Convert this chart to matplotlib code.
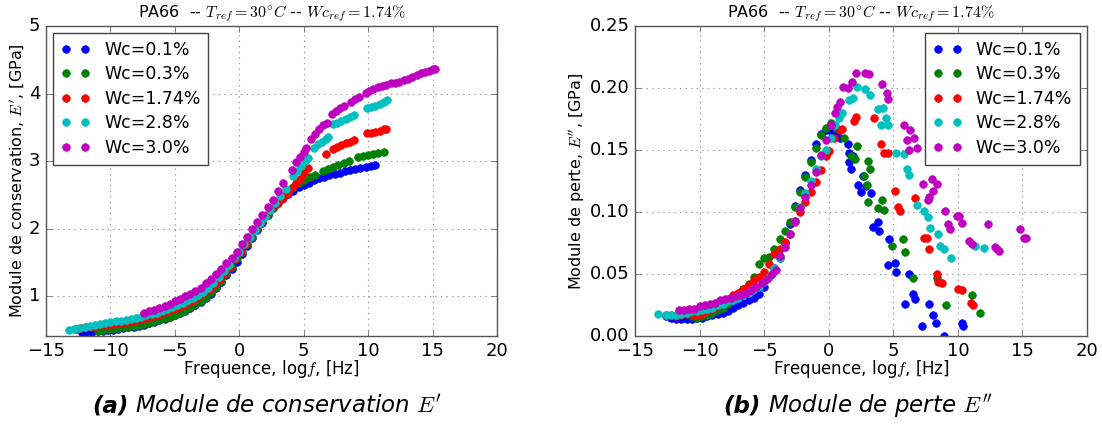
import matplotlib
matplotlib.use("Agg")
from matplotlib import pyplot as plt

plt.style.use("classic")
plt.rcParams["figure.facecolor"] = "white"
plt.rcParams["savefig.facecolor"] = "white"
plt.rcParams["mathtext.fontset"] = "cm"

labels = ["Wc=0.1%", "Wc=0.3%", "Wc=1.74%", "Wc=2.8%", "Wc=3.0%"]
colors = ["b", "g", "r", "c", "m"]

# --- Module de conservation E' [GPa] vs log f
e1_x_01 = [-12.2, -11.8, -11.4, -11.0, -10.6, -10.2, -9.8, -9.4, -9.0, -8.6, -8.2, -7.8, -7.4, -7.0, -6.6, -6.2,
           -5.8, -5.4, -5.0, -4.6, -4.2, -3.8, -3.4, -3.0, -2.6, -2.2, -1.8, -1.4, -1.0, -0.6, -0.2, 0.2, 0.6,
           1.0, 1.4, 1.8, 2.2, 2.6, 3.0, 3.4, 3.8, 4.2, 4.6, 5.0, 5.4, 5.8, 6.2, 6.6, 7.0, 7.4, 7.8, 8.2, 8.6,
           9.0, 9.4, 9.8, 10.2, 10.5]
e1_y_01 = [0.46, 0.47, 0.475, 0.48, 0.49, 0.50, 0.505, 0.515, 0.525, 0.54, 0.55, 0.565, 0.58, 0.60, 0.62, 0.645,
           0.67, 0.695, 0.72, 0.75, 0.785, 0.82, 0.865, 0.91, 0.97, 1.04, 1.12, 1.21, 1.31, 1.41, 1.51, 1.62, 1.74,
           1.86, 1.98, 2.09, 2.20, 2.30, 2.38, 2.45, 2.51, 2.56, 2.61, 2.65, 2.68, 2.72, 2.75, 2.77, 2.79, 2.81, 2.83,
           2.85, 2.87, 2.88, 2.90, 2.91, 2.93, 2.94]

e1_x_03 = [-11.0, -10.6, -10.2, -9.8, -9.4, -9.0, -8.6, -8.2, -7.8, -7.4, -7.0, -6.6, -6.2, -5.8, -5.4, -5.0,
           -4.6, -4.2, -3.8, -3.4, -3.0, -2.6, -2.2, -1.8, -1.4, -1.0, -0.6, -0.2, 0.2, 0.6, 1.0, 1.4, 1.8, 2.2,
           2.6, 3.0, 3.4, 3.8, 4.2, 4.6, 5.0, 5.5, 5.9, 6.5, 6.9, 7.3, 7.7, 8.1, 8.5, 9.2, 9.6, 10.0, 10.4, 10.8, 11.2]
e1_y_03 = [0.49, 0.50, 0.51, 0.52, 0.53, 0.54, 0.55, 0.565, 0.58, 0.595, 0.61, 0.63, 0.65, 0.675, 0.70, 0.73,
           0.76, 0.795, 0.835, 0.88, 0.93, 0.99, 1.06, 1.14, 1.23, 1.33, 1.44, 1.56, 1.66, 1.77, 1.88, 1.99, 2.10,
           2.21, 2.31, 2.40, 2.48, 2.55, 2.61, 2.67, 2.72, 2.77, 2.80, 2.85, 2.88, 2.92, 2.94, 2.97, 3.00, 3.06,
           3.07, 3.09, 3.10, 3.12, 3.14]

e1_x_174 = [-12.7, -12.3, -11.9, -11.5, -11.1, -10.7, -10.3, -9.9, -9.5, -9.1, -8.7, -8.3, -7.9, -7.5, -7.1, -6.7,
            -6.3, -5.9, -5.5, -5.1, -4.7, -4.3, -3.9, -3.5, -3.1, -2.7, -2.3, -1.9, -1.5, -1.1, -0.7, -0.3, 0.1,
            0.5, 0.9, 1.3, 1.7, 2.1, 2.5, 2.9, 3.3, 3.7, 4.1, 4.4, 4.7, 5.0, 5.3, 6.7, 7.3, 7.6, 7.9, 8.3, 8.6,
            8.9, 9.9, 10.2, 10.5, 10.9, 11.2, 11.4]
e1_y_174 = [0.52, 0.53, 0.54, 0.55, 0.56, 0.57, 0.58, 0.59, 0.60, 0.61, 0.625, 0.64, 0.655, 0.67, 0.69, 0.71,
            0.73, 0.755, 0.78, 0.81, 0.84, 0.87, 0.91, 0.95, 1.00, 1.05, 1.11, 1.18, 1.26, 1.35, 1.44, 1.55, 1.65,
            1.77, 1.89, 2.00, 2.10, 2.20, 2.29, 2.37, 2.44, 2.51, 2.60, 2.67, 2.74, 2.82, 2.90, 3.10, 3.18, 3.21,
            3.24, 3.27, 3.29, 3.31, 3.41, 3.42, 3.43, 3.45, 3.47, 3.48]

e1_x_28 = [-13.2, -12.8, -12.4, -12.0, -11.6, -11.2, -10.8, -10.4, -10.0, -9.6, -9.2, -8.8, -8.4, -8.0, -7.6, -7.2,
           -6.8, -6.4, -6.0, -5.6, -5.2, -4.8, -4.4, -4.0, -3.6, -3.2, -2.8, -2.4, -2.0, -1.6, -1.2, -0.8, -0.4,
           0.0, 0.4, 0.8, 1.2, 1.6, 2.0, 2.4, 2.8, 3.2, 3.6, 4.2, 4.5, 4.8, 5.1, 5.3, 5.8, 6.1, 6.4, 6.7, 6.9,
           7.3, 7.6, 7.9, 8.3, 8.6, 8.9, 9.9, 10.2, 10.5, 10.9, 11.2, 11.5]
e1_y_28 = [0.50, 0.52, 0.535, 0.55, 0.56, 0.575, 0.59, 0.60, 0.615, 0.63, 0.64, 0.655, 0.67, 0.685, 0.70, 0.72,
           0.74, 0.76, 0.78, 0.81, 0.84, 0.87, 0.90, 0.94, 0.98, 1.02, 1.07, 1.13, 1.20, 1.28, 1.37, 1.46, 1.56,
           1.66, 1.77, 1.88, 1.98, 2.08, 2.18, 2.28, 2.38, 2.48, 2.58, 2.78, 2.86, 2.93, 3.00, 3.05, 3.20, 3.25,
           3.29, 3.33, 3.35, 3.55, 3.57, 3.60, 3.63, 3.65, 3.68, 3.79, 3.80, 3.82, 3.85, 3.87, 3.90]

e1_x_30 = [-7.4, -7.0, -6.6, -6.2, -5.8, -5.4, -5.0, -4.6, -4.2, -3.8, -3.4, -3.0, -2.6, -2.2, -1.8, -1.4, -1.0,
           -0.6, -0.2, 0.2, 0.6, 1.0, 1.4, 1.8, 2.2, 2.6, 3.0, 3.4, 4.1, 4.4, 4.7, 5.0, 5.2, 5.6, 5.9, 6.2, 6.5,
           6.8, 7.2, 7.5, 7.8, 8.1, 8.7, 9.0, 9.3, 9.8, 10.1, 10.4, 10.8, 11.1, 11.4, 11.8, 12.1, 12.4, 12.8,
           13.1, 13.4, 13.8, 14.1, 14.4, 14.7, 15.0, 15.2]
e1_y_30 = [0.75, 0.78, 0.80, 0.83, 0.86, 0.89, 0.93, 0.96, 1.00, 1.04, 1.08, 1.13, 1.19, 1.26, 1.33, 1.41, 1.49,
           1.57, 1.65, 1.77, 1.88, 1.99, 2.10, 2.21, 2.32, 2.43, 2.56, 2.68, 2.87, 2.98, 3.06, 3.14, 3.20, 3.33,
           3.40, 3.47, 3.53, 3.57, 3.69, 3.74, 3.79, 3.82, 3.88, 3.92, 3.95, 4.01, 4.03, 4.06, 4.09, 4.11, 4.12,
           4.15, 4.16, 4.17, 4.20, 4.22, 4.24, 4.28, 4.30, 4.32, 4.34, 4.36, 4.37]

# --- Module de perte E'' [GPa] vs log f
e2_x_01 = [-12.6, -12.2, -11.8, -11.4, -11.0, -10.6, -10.2, -9.8, -9.4, -9.0, -8.6, -8.2, -7.8, -7.4, -7.0, -6.6,
           -6.2, -5.8, -5.4, -5.0, -4.6, -4.2, -3.8, -3.4, -3.0, -2.6, -2.2, -1.8, -1.4, -1.0, -0.6, -0.2, 0.2,
           0.6, 0.9, 1.5, 1.54, 1.6, 1.7, 1.9, 2.3, 2.5, 2.64, 2.86, 3.3, 3.43, 3.8, 3.9, 4.6, 4.7, 5.1, 5.2,
           5.9, 6.2, 6.5, 6.65, 7.2, 7.75, 8.1, 8.3, 8.9, 10.3, 10.4]
e2_y_01 = [0.016, 0.015, 0.014, 0.014, 0.014, 0.014, 0.015, 0.015, 0.016, 0.017, 0.018, 0.019, 0.020, 0.023,
           0.025, 0.027, 0.029, 0.031, 0.034, 0.040, 0.048, 0.055, 0.063, 0.075, 0.090, 0.105, 0.118, 0.130,
           0.142, 0.155, 0.163, 0.166, 0.165, 0.162, 0.160, 0.155, 0.148, 0.140, 0.135, 0.145, 0.122, 0.116,
           0.129, 0.121, 0.115, 0.088, 0.092, 0.085, 0.057, 0.078, 0.059, 0.052, 0.026, 0.050, 0.034, 0.030,
           0.008, 0.026, 0.017, 0.011, 0.0005, 0.011, 0.008]

e2_x_03 = [-10.6, -10.2, -9.8, -9.4, -9.0, -8.6, -8.2, -7.8, -7.4, -7.0, -6.6, -6.2, -5.8, -5.4, -5.0, -4.6, -4.2,
           -3.8, -3.4, -3.0, -2.6, -2.2, -1.8, -1.4, -1.0, -0.6, -0.2, 0.2, 0.6, 1.2, 1.74, 2.0, 2.2, 2.77, 3.0,
           3.05, 3.05, 3.2, 3.8, 4.1, 4.3, 4.9, 5.75, 5.9, 6.5, 8.4, 9.1, 11.1, 11.7]
e2_y_03 = [0.016, 0.015, 0.016, 0.017, 0.019, 0.021, 0.023, 0.026, 0.030, 0.034, 0.038, 0.042, 0.048, 0.058,
           0.063, 0.064, 0.070, 0.078, 0.085, 0.092, 0.104, 0.116, 0.128, 0.140, 0.152, 0.162, 0.168, 0.172,
           0.168, 0.160, 0.145, 0.143, 0.153, 0.129, 0.122, 0.141, 0.108, 0.135, 0.103, 0.110, 0.102, 0.073,
           0.078, 0.068, 0.047, 0.047, 0.025, 0.033, 0.019]

e2_x_174 = [-12.6, -12.2, -11.8, -11.4, -11.0, -10.6, -10.2, -9.8, -9.4, -9.0, -8.6, -8.2, -7.8, -7.4, -7.0, -6.6,
            -6.2, -5.8, -5.4, -5.0, -4.6, -4.2, -3.8, -3.4, -3.0, -2.6, -2.2, -1.8, -1.4, -1.0, -0.6, -0.2, 0.0,
            0.4, 0.85, 1.05, 1.98, 2.15, 3.5, 4.05, 4.3, 4.6, 5.15, 5.4, 5.55, 6.7, 7.4, 7.6, 7.8, 8.35, 8.5,
            8.75, 10.0, 10.35, 11.0, 11.2]
e2_y_174 = [0.017, 0.017, 0.016, 0.017, 0.018, 0.018, 0.017, 0.018, 0.020, 0.022, 0.024, 0.027, 0.030, 0.033,
            0.035, 0.038, 0.041, 0.045, 0.048, 0.052, 0.058, 0.066, 0.070, 0.076, 0.082, 0.092, 0.100, 0.108,
            0.116, 0.124, 0.134, 0.145, 0.149, 0.160, 0.166, 0.167, 0.173, 0.177, 0.176, 0.155, 0.148, 0.148,
            0.117, 0.104, 0.101, 0.111, 0.079, 0.079, 0.070, 0.050, 0.044, 0.043, 0.038, 0.037, 0.027, 0.025]

e2_x_28 = [-13.2, -12.6, -12.2, -11.8, -11.4, -11.0, -10.6, -10.2, -9.8, -9.4, -9.0, -8.6, -8.2, -7.8, -7.4, -7.0,
           -6.6, -6.2, -5.8, -5.4, -5.0, -4.6, -4.2, -3.8, -3.4, -3.0, -2.6, -2.2, -1.8, -1.4, -1.0, -0.6, -0.2,
           0.2, 0.5, 0.77, 1.05, 1.6, 1.9, 2.2, 2.8, 3.2, 3.8, 4.2, 4.05, 4.45, 4.6, 5.2, 5.8, 6.05, 6.2, 6.85,
           7.4, 7.65, 7.85, 8.45, 8.6, 8.9, 9.5, 11.3, 12.0]
e2_y_28 = [0.018, 0.017, 0.017, 0.017, 0.018, 0.019, 0.020, 0.020, 0.021, 0.022, 0.023, 0.025, 0.026, 0.028,
           0.029, 0.031, 0.033, 0.035, 0.038, 0.040, 0.044, 0.048, 0.055, 0.063, 0.072, 0.082, 0.093, 0.104,
           0.115, 0.125, 0.135, 0.145, 0.150, 0.160, 0.170, 0.176, 0.180, 0.190, 0.192, 0.201, 0.199, 0.194,
           0.183, 0.184, 0.170, 0.176, 0.170, 0.148, 0.147, 0.135, 0.130, 0.106, 0.101, 0.096, 0.087, 0.082,
           0.073, 0.070, 0.063, 0.073, 0.071]

e2_x_30 = [-11.6, -11.2, -10.8, -10.4, -10.0, -9.6, -9.2, -8.8, -8.4, -8.0, -7.6, -7.2, -6.8, -6.4, -6.0, -5.6,
           -5.2, -4.8, -4.4, -4.1, -3.8, -3.4, -3.0, -2.6, -2.2, -1.8, -1.4, -1.0, -0.6, -0.2, 0.2, 0.5, 0.67,
           0.9, 1.1, 1.5, 1.8, 2.15, 2.8, 3.15, 4.15, 4.5, 4.6, 5.8, 6.3, 6.1, 6.6, 6.8, 6.2, 7.3, 8.0, 8.4,
           8.1, 7.7, 7.8, 9.0, 9.25, 9.4, 9.9, 10.1, 10.3, 12.3, 10.85, 11.1, 12.85, 13.05, 13.2, 14.85, 15.1,
           15.3]
e2_y_30 = [0.021, 0.021, 0.022, 0.022, 0.024, 0.025, 0.026, 0.027, 0.029, 0.030, 0.031, 0.032, 0.033, 0.035,
           0.037, 0.040, 0.043, 0.046, 0.050, 0.053, 0.065, 0.072, 0.082, 0.093, 0.103, 0.112, 0.122, 0.132,
           0.146, 0.158, 0.170, 0.180, 0.185, 0.189, 0.201, 0.200, 0.205, 0.212, 0.212, 0.211, 0.203, 0.196,
           0.191, 0.170, 0.166, 0.158, 0.160, 0.152, 0.150, 0.123, 0.127, 0.123, 0.117, 0.110, 0.112, 0.101,
           0.090, 0.086, 0.097, 0.097, 0.091, 0.090, 0.077, 0.074, 0.072, 0.070, 0.069, 0.086, 0.079, 0.079]

e1_series = [(e1_x_01, e1_y_01), (e1_x_03, e1_y_03), (e1_x_174, e1_y_174), (e1_x_28, e1_y_28), (e1_x_30, e1_y_30)]
e2_series = [(e2_x_01, e2_y_01), (e2_x_03, e2_y_03), (e2_x_174, e2_y_174), (e2_x_28, e2_y_28), (e2_x_30, e2_y_30)]

titre = r"PA66  -- $T_{ref}=30^{\circ}C$ -- $Wc_{ref}=1.74\%$"
xlab = r"Frequence, log$f$, [Hz]"

fig = plt.figure(figsize=(11.02, 4.25), dpi=100)
ax1 = fig.add_axes([0.0417, 0.209, 0.4093, 0.730])
ax2 = fig.add_axes([0.5762, 0.209, 0.4102, 0.730])

def habille(ax, ylab, loc):
	ax.set_xlim(-15, 20)
	ax.set_xticks([-15, -10, -5, 0, 5, 10, 15, 20])
	ax.grid(True, color="0.6", linestyle=":", linewidth=0.8)
	ax.set_axisbelow(True)
	for s in ax.spines.values():
		s.set_edgecolor("#555555")
	ax.tick_params(labelsize=13, color="#555555")
	ax.set_xlabel(xlab, fontsize=12, labelpad=-1)
	ax.set_ylabel(ylab, fontsize=11.5, labelpad=2)
	ax.set_title(titre, fontsize=11.5, y=1.005)
	leg = ax.legend(loc=loc, numpoints=2, fontsize=12.5, fancybox=False, borderpad=0.45,
		labelspacing=0.38, handlelength=1.7, handletextpad=0.8, borderaxespad=0.4)
	leg.get_frame().set_edgecolor("#444444")

for (x, y), c, lab in zip(e1_series, colors, labels):
	ax1.plot(x, y, "o", color=c, mec=c, ms=5.5, label=lab)
ax1.set_ylim(0.41, 5)
ax1.set_yticks([1, 2, 3, 4, 5])
habille(ax1, r"Module de conservation, $E'$, [GPa]", "upper left")

for (x, y), c, lab in zip(e2_series, colors, labels):
	ax2.plot(x, y, "o", color=c, mec=c, ms=5.5, label=lab)
ax2.set_ylim(0, 0.25)
ax2.set_yticks([0, 0.05, 0.10, 0.15, 0.20, 0.25])
ax2.set_yticklabels(["0.00", "0.05", "0.10", "0.15", "0.20", "0.25"])
habille(ax2, r"Module de perte, $E''$, [GPa]", "upper right")

# legendes des sous-figures
fig.text(92 / 1102, 0.03, "(a)", fontsize=16.5, fontweight="bold", fontstyle="italic")
fig.text(135 / 1102, 0.03, r"Module de conservation $E'$", fontsize=16.5, fontstyle="italic")
fig.text(723 / 1102, 0.03, "(b)", fontsize=16.5, fontweight="bold", fontstyle="italic")
fig.text(768 / 1102, 0.03, r"Module de perte $E''$", fontsize=16.5, fontstyle="italic")

fig.savefig("out.png", dpi=100)
